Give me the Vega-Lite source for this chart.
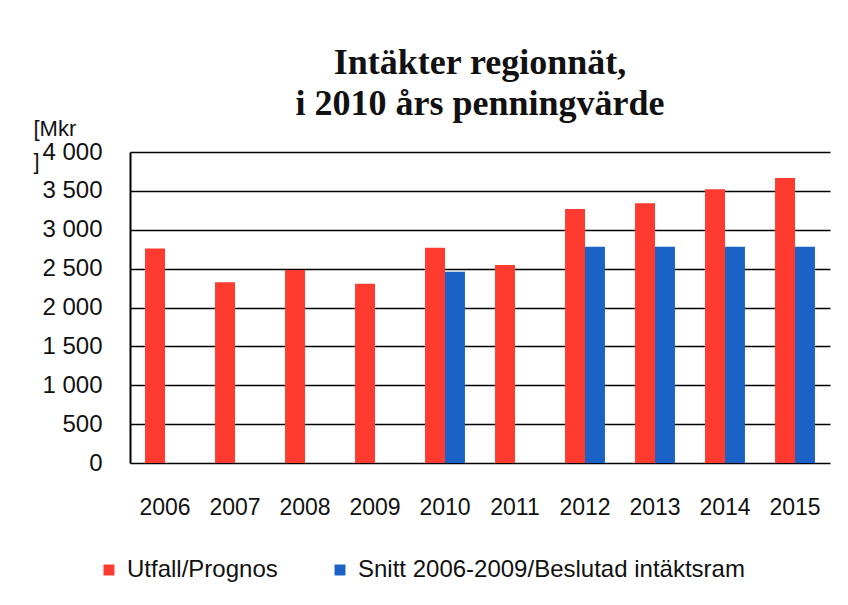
{
  "$schema": "https://vega.github.io/schema/vega-lite/v6.json",
  "width": 700,
  "height": 311,
  "autosize": "none",
  "padding": {"left": 130, "top": 152, "right": 18, "bottom": 142},
  "background": "white",
  "title": {
    "text": ["Intäkter regionnät,", "i 2010 års penningvärde"],
    "font": "Liberation Serif",
    "fontSize": 36,
    "fontWeight": "bold",
    "color": "#111",
    "anchor": "middle",
    "lineHeight": 41,
    "offset": -6
  },
  "data": {
    "values": [
      {"year": "2006", "series": "Utfall/Prognos", "value": 2760},
      {"year": "2007", "series": "Utfall/Prognos", "value": 2325},
      {"year": "2008", "series": "Utfall/Prognos", "value": 2482},
      {"year": "2009", "series": "Utfall/Prognos", "value": 2306},
      {"year": "2010", "series": "Utfall/Prognos", "value": 2769},
      {"year": "2010", "series": "Snitt 2006-2009/Beslutad intäktsram", "value": 2461},
      {"year": "2011", "series": "Utfall/Prognos", "value": 2547},
      {"year": "2012", "series": "Utfall/Prognos", "value": 3267},
      {"year": "2012", "series": "Snitt 2006-2009/Beslutad intäktsram", "value": 2782},
      {"year": "2013", "series": "Utfall/Prognos", "value": 3340},
      {"year": "2013", "series": "Snitt 2006-2009/Beslutad intäktsram", "value": 2782},
      {"year": "2014", "series": "Utfall/Prognos", "value": 3520},
      {"year": "2014", "series": "Snitt 2006-2009/Beslutad intäktsram", "value": 2782},
      {"year": "2015", "series": "Utfall/Prognos", "value": 3666},
      {"year": "2015", "series": "Snitt 2006-2009/Beslutad intäktsram", "value": 2782}
    ]
  },
  "mark": {"type": "bar"},
  "encoding": {
    "x": {
      "field": "year",
      "type": "nominal",
      "scale": {"paddingInner": 0.43, "paddingOuter": 0.215},
      "axis": {
        "title": null,
        "labelAngle": 0,
        "labelFont": "Liberation Sans",
        "labelFontSize": 23,
        "labelColor": "#111",
        "labelPadding": 33,
        "ticks": false,
        "domain": false
      }
    },
    "xOffset": {
      "field": "series",
      "type": "nominal",
      "scale": {"domain": ["Utfall/Prognos", "Snitt 2006-2009/Beslutad intäktsram"], "paddingInner": 0, "paddingOuter": 0}
    },
    "y": {
      "field": "value",
      "type": "quantitative",
      "scale": {"domain": [0, 4000], "nice": false},
      "axis": {
        "values": [0, 500, 1000, 1500, 2000, 2500, 3000, 3500, 4000],
        "labelExpr": "replace(format(datum.value, ',d'), ',', ' ')",
        "title": ["[Mkr", "]"],
        "titleAngle": 0,
        "titleAlign": "left",
        "titleBaseline": "top",
        "titleX": -97,
        "titleY": -34,
        "titleFont": "Liberation Sans",
        "titleFontSize": 22,
        "titleFontWeight": "normal",
        "titleColor": "#111",
        "titleLineHeight": 33,
        "labelFont": "Liberation Sans",
        "labelFontSize": 24,
        "labelColor": "#111",
        "labelPadding": 28,
        "ticks": false,
        "grid": true,
        "gridColor": "#000",
        "gridWidth": 1.5,
        "domainColor": "#000",
        "domainWidth": 2
      }
    },
    "color": {
      "field": "series",
      "type": "nominal",
      "scale": {"domain": ["Utfall/Prognos", "Snitt 2006-2009/Beslutad intäktsram"], "range": ["#ff3a2e", "#1b62c6"]},
      "legend": {
        "title": null,
        "orient": "none",
        "direction": "horizontal",
        "legendX": -33,
        "legendY": 406,
        "symbolType": "square",
        "symbolSize": 120,
        "symbolStrokeWidth": 0,
        "labelFont": "Liberation Sans",
        "labelFontSize": 24,
        "labelColor": "#111",
        "labelOffset": 6,
        "labelLimit": 600,
        "columnPadding": 50
      }
    }
  },
  "config": {
    "view": {"stroke": null}
  }
}
